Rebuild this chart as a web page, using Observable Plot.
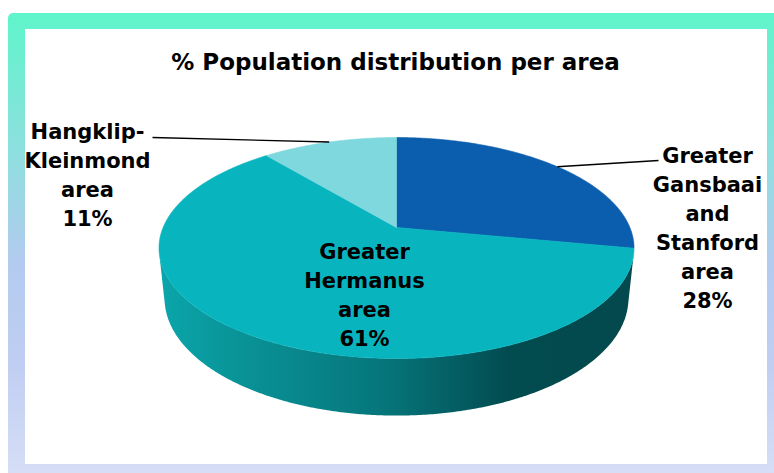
<!DOCTYPE html>
<html>
<head>
<meta charset="utf-8">
<script src="https://cdn.jsdelivr.net/npm/d3@7"></script>
<script src="https://cdn.jsdelivr.net/npm/@observablehq/plot@0.6"></script>
<style>
  html, body { margin: 0; padding: 0; background: #ffffff; }
  #wrap { position: relative; width: 774px; height: 473px; overflow: hidden; }
  #frame { position: absolute; left: 8px; top: 13px; width: 780px; height: 480px; border-radius: 5px;
    background: linear-gradient(to bottom, #5ff5cb 0%, #7fe6d8 20%, #b3cbef 52%, #bfcdf2 72%, #d9e1f6 100%); }
  #inner { position: absolute; left: 25px; top: 29px; width: 742px; height: 435px; background: #ffffff; }
  #chart { position: absolute; left: 0; top: 0; }
</style>
</head>
<body>
<div id="wrap">
  <div id="frame"></div>
  <div id="inner"></div>
  <div id="chart"></div>
</div>
<script>
// ---- data ----
const title = "% Population distribution per area";
const areas = ["Greater Gansbaai and Stanford area", "Greater Hermanus area", "Hangklip-Kleinmond area"];
const shares = [28, 61, 11];
const labelLines = [
  ["Greater", "Gansbaai", "and", "Stanford", "area"],
  ["Greater", "Hermanus", "area"],
  ["Hangklip-", "Kleinmond", "area"]
];
const topColors = ["#0b5ead", "#08b5bf", "#80d8df"];

// ---- layout / styling ----
const W = 774, H = 473;
const CX = 396, CY = 227, S = 233.4;          // screen centre of the pie and scale
const CAM = {D: 4.79, tilt: 27.2 * Math.PI / 180, thick: 0.245};
const labelAnchor = [[707, 307], [364, 345], [87, 225]];   // pixel anchor of last text line
const leaderEnd = [[658, 160], null, [152, 137]];           // pixel end of leader line near label
const font = "DejaVu Sans";

const toX = px => (px - CX) / S;
const toY = py => (CY - py) / S;

function proj(theta, r, z) {
  const u = r * Math.sin(theta), v = r * Math.cos(theta);
  const c = Math.cos(CAM.tilt), s = Math.sin(CAM.tilt);
  const d = CAM.D + v * c - z * s;
  return {x: CAM.D * u / d, y: CAM.D * (v * s + z * c) / d};
}

const arcs = d3.pie().sort(null).value(d => d)(shares);

// silhouette angles of the cylinder side
const vt = -1 / (CAM.D * Math.cos(CAM.tilt));
const thR = Math.acos(vt), thL = 2 * Math.PI - thR;

function arcPts(a0, a1, z) {
  const n = Math.max(2, Math.ceil((a1 - a0) / (Math.PI / 360)));
  const pts = [];
  for (let i = 0; i <= n; i++) pts.push(proj(a0 + (a1 - a0) * i / n, 1, z));
  return pts;
}

const topPolys = arcs.map((a, i) => {
  const pts = [proj(0, 0, 0), ...arcPts(a.startAngle, a.endAngle, 0), proj(0, 0, 0)];
  return {i, pts};
});

const sidePolys = [];
arcs.forEach((a, i) => {
  const a0 = Math.max(a.startAngle, thR), a1 = Math.min(a.endAngle, thL);
  if (a0 < a1) {
    const top = arcPts(a0, a1, 0);
    const bot = arcPts(a0, a1, -CAM.thick).reverse();
    sidePolys.push({i, pts: [...top, ...bot, top[0]]});
  }
});

const leaders = arcs.map((a, i) => {
  if (!leaderEnd[i]) return null;
  const p = proj((a.startAngle + a.endAngle) / 2, 1, 0);
  return {x1: p.x, y1: p.y, x2: toX(leaderEnd[i][0]), y2: toY(leaderEnd[i][1])};
}).filter(d => d);

const labels = shares.map((v, i) => ({
  text: labelLines[i].join("\n") + "\n" + v + "%",
  x: toX(labelAnchor[i][0]),
  y: toY(labelAnchor[i][1])
}));

const marks = [];
sidePolys.forEach(p => marks.push(Plot.line(p.pts, {x: "x", y: "y", fill: "url(#sideGrad)", stroke: "none"})));
topPolys.forEach(p => marks.push(Plot.line(p.pts, {x: "x", y: "y", fill: topColors[p.i], stroke: topColors[p.i], strokeWidth: 0.6})));
marks.push(Plot.link(leaders, {x1: "x1", y1: "y1", x2: "x2", y2: "y2", stroke: "#000", strokeWidth: 1.4}));
marks.push(Plot.text(labels, {x: "x", y: "y", text: "text", lineAnchor: "bottom", lineHeight: 1.38,
  fontFamily: font, fontWeight: "bold", fontSize: 21, fill: "#000", textAnchor: "middle"}));
marks.push(Plot.text([title], {frameAnchor: "top", lineAnchor: "bottom", dy: 69, dx: 8,
  fontFamily: font, fontWeight: "bold", fontSize: 23, fill: "#000"}));

const svg = Plot.plot({
  width: W, height: H,
  margin: 0,
  x: {domain: [-1, 1], range: [CX - S, CX + S], axis: null},
  y: {domain: [-1, 1], range: [CY + S, CY - S], axis: null},
  style: {background: "transparent", overflow: "visible"},
  marks
});

const defs = d3.select(svg).insert("defs", ":first-child");
const g = defs.append("linearGradient").attr("id", "sideGrad").attr("x1", 0).attr("x2", 1).attr("y1", 0).attr("y2", 0);
[[0, "#0aa6ab"], [0.15, "#099599"], [0.48, "#06757a"], [0.74, "#024b4f"], [1, "#03494d"]]
  .forEach(([o, c]) => g.append("stop").attr("offset", o).attr("stop-color", c));

document.getElementById("chart").appendChild(svg);
</script>
</body>
</html>
